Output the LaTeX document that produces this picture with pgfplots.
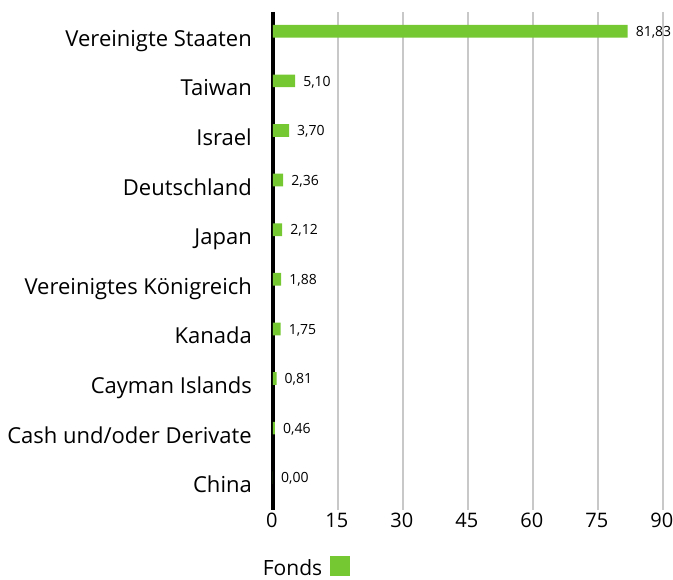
\documentclass[border=0pt]{standalone}
\usepackage{pgfplots}
\pgfplotsset{compat=1.18}
\usepackage{fontspec}
\setmainfont{Open Sans}
\definecolor{fonds}{RGB}{118,200,50}
\definecolor{gridgray}{RGB}{200,200,200}
\begin{document}
\begin{tikzpicture}
\useasboundingbox (0,0) rectangle (673pt,580pt);
\begin{axis}[
  at={(273pt,70pt)}, anchor=south west,
  scale only axis, width=390pt, height=498pt,
  xbar, bar width=12.7pt,
  xmin=0, xmax=90, ymin=-0.389, ymax=9.651, y dir=reverse,
  xtick={0,15,30,45,60,75,90}, ytick={0,1,2,3,4,5,6,7,8,9},
  yticklabels={Vereinigte Staaten, Taiwan, Israel, Deutschland, Japan, Vereinigtes Königreich, Kanada, Cayman Islands, Cash und/oder Derivate, China},
  axis line style={draw=none}, major tick length=0pt,
  xmajorgrids, grid style={gridgray, line width=2.5pt},
  extra x ticks={0}, extra x tick labels={},
  extra x tick style={grid style={black, line width=4.3pt}},
  /pgf/number format/assume math mode=true,
  yticklabel style={font=\fontsize{22}{26}\selectfont, anchor=base east, inner sep=0pt, xshift=-21pt, yshift=-15pt},
  xticklabel style={font=\fontsize{20}{24}\selectfont, anchor=north, inner sep=0pt, yshift=-3pt, xshift=-1.2pt},
  point meta=x,
  nodes near coords={\pgfmathprintnumber[fixed, fixed zerofill, precision=2, use comma]{\pgfplotspointmeta}},
  nodes near coords align={horizontal},
  every node near coord/.append style={anchor=base west, inner sep=0pt, xshift=8pt, yshift=-5.2pt, font=\fontsize{14}{17}\selectfont, black},
  legend entries={Fonds},
  legend plot pos=right,
  legend style={draw=none, fill=none, at={(-0.0264,-0.0924)}, anchor=north west, inner sep=0pt, nodes={inner sep=0pt}, cells={anchor=base west}, font=\fontsize{21}{25}\selectfont},
  legend image code/.code={\path (0pt,0pt); \fill[fonds] (8pt,-1pt) rectangle (28pt,19pt);},
]
\addplot[fill=fonds, draw=none] coordinates {
  (81.83,0) (5.10,1) (3.70,2) (2.36,3) (2.12,4) (1.88,5) (1.75,6) (0.81,7) (0.46,8) (0.00,9)
};
\end{axis}
\end{tikzpicture}
\end{document}
